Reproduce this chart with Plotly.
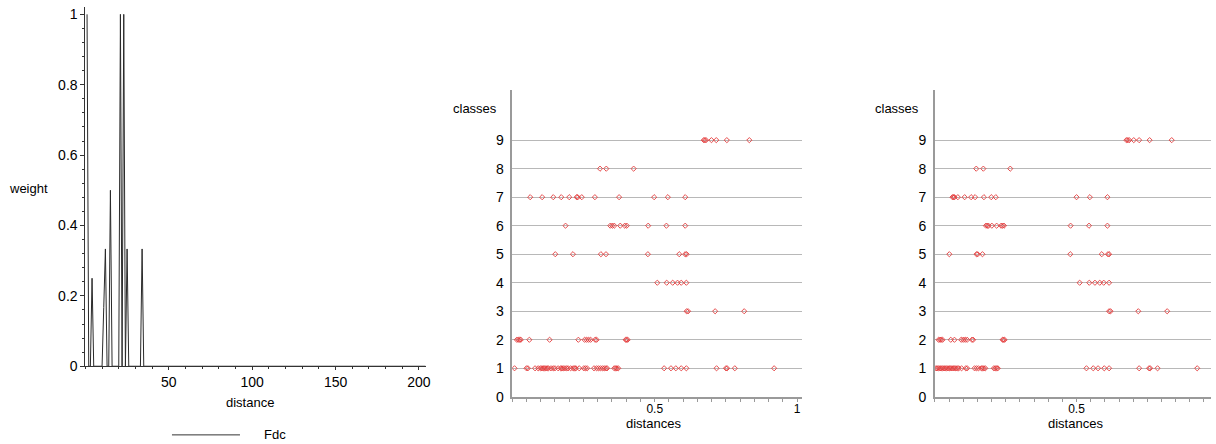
import plotly.graph_objects as go

W, H = 1216, 444

# ---- left chart data (Fdc weight vs distance) ----
fdc_distance = [1, 2, 3, 4, 5, 10, 11, 12, 13, 14, 15, 16, 20, 21, 22, 23, 24, 25, 26, 33, 34, 35, 204]
fdc_weight = [1, 0, 0, 0.25, 0, 0, 0.1667, 0.3333, 0, 0, 0.5, 0, 0, 1, 0, 1, 0, 0.3333, 0, 0, 0.3333, 0, 0]

# ---- middle chart data: distances per class ----
mid_class1 = [0.008, 0.050, 0.055, 0.080, 0.091, 0.099, 0.104, 0.109, 0.113, 0.118, 0.123, 0.127, 0.136,
              0.144, 0.150, 0.161, 0.170, 0.174, 0.179, 0.185, 0.191, 0.196, 0.205, 0.214, 0.219, 0.223,
              0.235, 0.251, 0.257, 0.263, 0.287, 0.296, 0.303, 0.310, 0.317, 0.323, 0.329, 0.333, 0.358,
              0.363, 0.367, 0.372, 0.533, 0.557, 0.574, 0.593, 0.611, 0.717, 0.750, 0.754, 0.781, 0.919]
mid_class2 = [0.016, 0.021, 0.026, 0.030, 0.060, 0.131, 0.232, 0.254, 0.261, 0.268, 0.275, 0.291, 0.296,
              0.398, 0.401, 0.405]
mid_class3 = [0.612, 0.617, 0.712, 0.814]
mid_class4 = [0.509, 0.542, 0.563, 0.580, 0.593, 0.611]
mid_class5 = [0.151, 0.213, 0.311, 0.329, 0.476, 0.586, 0.607, 0.612]
mid_class6 = [0.187, 0.344, 0.351, 0.358, 0.379, 0.395, 0.402, 0.477, 0.541, 0.607]
mid_class7 = [0.063, 0.105, 0.144, 0.172, 0.200, 0.226, 0.230, 0.244, 0.290, 0.375, 0.498, 0.546, 0.607]
mid_class8 = [0.308, 0.330, 0.426]
mid_class9 = [0.672, 0.676, 0.680, 0.699, 0.716, 0.753, 0.832]

# ---- right chart data: distances per class ----
right_class1 = [0.004, 0.008, 0.013, 0.018, 0.022, 0.027, 0.032, 0.036, 0.041, 0.046, 0.051, 0.055, 0.060,
                0.065, 0.069, 0.074, 0.079, 0.084, 0.094, 0.109, 0.114, 0.140, 0.147, 0.154, 0.164, 0.168,
                0.173, 0.178, 0.208, 0.213, 0.218, 0.222, 0.535, 0.559, 0.576, 0.598, 0.615, 0.721, 0.756,
                0.760, 0.786, 0.926]
right_class2 = [0.013, 0.018, 0.022, 0.027, 0.056, 0.069, 0.093, 0.100, 0.107, 0.114, 0.131, 0.135, 0.239,
                0.242, 0.246]
right_class3 = [0.615, 0.620, 0.718, 0.820]
right_class4 = [0.511, 0.545, 0.565, 0.582, 0.596, 0.615]
right_class5 = [0.051, 0.147, 0.151, 0.168, 0.478, 0.589, 0.611, 0.615]
right_class6 = [0.180, 0.185, 0.189, 0.201, 0.218, 0.234, 0.239, 0.244, 0.479, 0.544, 0.609]
right_class7 = [0.062, 0.066, 0.069, 0.081, 0.105, 0.128, 0.142, 0.173, 0.199, 0.215, 0.500, 0.547, 0.609]
right_class8 = [0.146, 0.171, 0.266]
right_class9 = [0.676, 0.681, 0.686, 0.702, 0.721, 0.758, 0.836]

class_ticks = [0, 1, 2, 3, 4, 5, 6, 7, 8, 9]
weight_ticks = [0, 0.2, 0.4, 0.6, 0.8, 1]
weight_labels = ["0", "0.2", "0.4", "0.6", "0.8", "1"]
distance_ticks = [50, 100, 150, 200]

mid_groups = [mid_class1, mid_class2, mid_class3, mid_class4, mid_class5,
              mid_class6, mid_class7, mid_class8, mid_class9]
right_groups = [right_class1, right_class2, right_class3, right_class4, right_class5,
                right_class6, right_class7, right_class8, right_class9]


def flatten(groups):
    xs, ys = [], []
    for i, g in enumerate(groups):
        xs += g
        ys += [i + 1] * len(g)
    return xs, ys


# the photographed page comes out slightly scaled; compensate
SX, SY = 0.996, 0.980


def px(x):
    return min(1.0, x / SX / W)


def py(y):
    return max(0.0, 1 - y / SY / H)


FONT = "Liberation Sans, Arial, Helvetica, sans-serif"
RED = "rgb(228,60,60)"
fig = go.Figure()

fig.add_trace(go.Scatter(x=fdc_distance, y=fdc_weight, mode="lines",
                         line=dict(color="#2a2a2a", width=1), name="Fdc",
                         xaxis="x", yaxis="y", showlegend=False))

mx, my = flatten(mid_groups)
fig.add_trace(go.Scatter(x=mx, y=my, mode="markers", xaxis="x2", yaxis="y2", showlegend=False,
                         marker=dict(symbol="diamond-open", size=4, color=RED,
                                     line=dict(width=0.9, color=RED))))
rx, ry = flatten(right_groups)
fig.add_trace(go.Scatter(x=rx, y=ry, mode="markers", xaxis="x3", yaxis="y3", showlegend=False,
                         marker=dict(symbol="diamond-open", size=4, color=RED,
                                     line=dict(width=0.9, color=RED))))

tickfont = dict(family=FONT, size=14, color="black")
tickfont2 = dict(family=FONT, size=12, color="black")


def xdom(x0, x1, unit):
    d0, d1 = px(x0), px(x1)
    return [d0, d1], [0, (d1 * W * SX - x0) / unit]


# left chart (image pixels): x=0 at 85.4, 1.668 px/unit ; y=0 at 365.5, y=1 at 14.3, top 6.7
ldom, lrange = xdom(85.4, 425.7, 1.668)
fig.update_layout(
    xaxis=dict(domain=ldom, range=lrange, anchor="y",
               showline=True, linecolor="#333", linewidth=1, showgrid=False, zeroline=False,
               tickmode="array", tickvals=distance_ticks, ticks="outside", ticklen=3,
               tickcolor="#333", tickfont=tickfont,
               minor=dict(tickmode="linear", tick0=0, dtick=10, ticks="outside", ticklen=2,
                          tickcolor="#333", showgrid=False)),
    yaxis=dict(domain=[py(365.5), py(6.7)], range=[0, 1 + (14.3 - 6.7) / 351.2], anchor="x",
               showline=True, linecolor="#333", linewidth=1, showgrid=False, zeroline=False,
               tickmode="array", tickvals=weight_ticks, ticktext=weight_labels,
               ticks="outside", ticklen=4, tickcolor="#333", tickfont=tickfont,
               minor=dict(tickmode="linear", tick0=0, dtick=0.04, ticks="outside", ticklen=2,
                          tickcolor="#333", showgrid=False)),
)

# middle and right charts
ybot, ytop = 396.0, 90.0
yrange = [0, (ybot - ytop) / 28.46]
for idx, (x0, x1, unit, xticks) in zip([2, 3], [(512.3, 801.7, 285.0, [0.5, 1]),
                                               (935.0, 1216.0, 283.3, [0.5])]):
    dom, rng = xdom(x0, x1, unit)
    fig.update_layout(**{
        f"xaxis{idx}": dict(domain=dom, range=rng,
                            anchor=f"y{idx}", showline=True, linecolor="#9a9a9a", linewidth=1.5,
                            showgrid=False, zeroline=False, tickmode="array", tickvals=xticks,
                            ticktext=[("0.5" if v == 0.5 else "1") for v in xticks],
                            ticks="", tickfont=tickfont2,
                            minor=dict(tickmode="linear", tick0=0, dtick=0.05, ticks="outside",
                                       ticklen=3, tickcolor="#9a9a9a", showgrid=False)),
        f"yaxis{idx}": dict(domain=[py(ybot), py(ytop)], range=yrange, anchor=f"x{idx}",
                            showline=True, linecolor="#9a9a9a", linewidth=1.5,
                            showgrid=True, gridcolor="#b8b8b8", gridwidth=1, zeroline=False,
                            tickmode="array", tickvals=class_ticks, ticks="", tickfont=tickfont,
                            ticklabelstandoff=4),
    })

ann_font = dict(family=FONT, size=13, color="black")
annotations = [
    dict(text="weight", x=px(29), y=py(188)),
    dict(text="distance", x=px(250), y=py(402)),
    dict(text="classes", x=px(475), y=py(108)),
    dict(text="distances", x=px(654), y=py(423)),
    dict(text="classes", x=px(897), y=py(108)),
    dict(text="distances", x=px(1076), y=py(423)),
]
for a in annotations:
    a.update(xref="paper", yref="paper", showarrow=False, font=ann_font,
             xanchor="center", yanchor="middle")
annotations.append(dict(text="Fdc", x=px(262), y=py(434), xref="paper", yref="paper",
                        showarrow=False, font=ann_font, xanchor="left", yanchor="middle"))

fig.update_layout(
    width=W, height=H, margin=dict(l=0, r=0, t=0, b=0),
    paper_bgcolor="white", plot_bgcolor="white",
    annotations=annotations,
    shapes=[dict(type="line", xref="paper", yref="paper", x0=px(172), x1=px(240),
                 y0=py(434), y1=py(434), line=dict(color="#333", width=1))],
    showlegend=False,
)

fig.write_html("out.html", config={"displayModeBar": False},
               post_script="document.body.style.margin='0';document.body.style.overflow='hidden';")
